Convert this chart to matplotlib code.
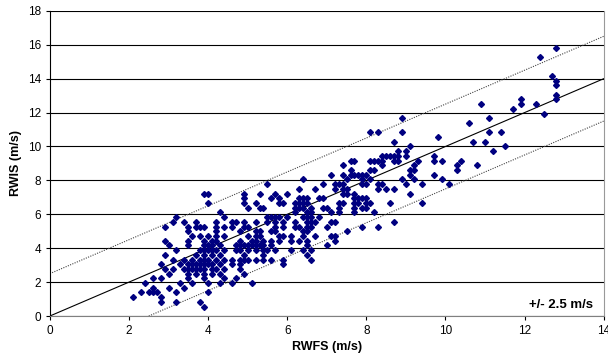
import matplotlib
matplotlib.use('Agg')
import matplotlib.pyplot as plt

plt.rcParams['font.family'] = ['Liberation Sans', 'DejaVu Sans']

# rwis readings (m/s) and the rwfs values (m/s) that go with them, row by row
rwis_levels = [0.56, 0.83, 1.11, 1.39, 1.67, 1.94, 2.22, 2.50, 2.78, 3.06,
               3.33, 3.61, 3.89, 4.17, 4.44, 4.72, 5.00, 5.28, 5.56, 5.83,
               6.11, 6.39, 6.67, 6.94, 7.22, 7.50, 7.78, 8.06, 8.33, 8.61,
               8.89, 9.17, 9.44, 9.72, 10.00, 10.28, 10.56, 10.83, 11.39, 11.67,
               11.94, 12.22, 12.50, 12.78, 13.06, 13.61, 13.89, 14.17, 15.28, 15.83]
rwfs_rows = [
    [3.9],
    [2.8, 3.2, 3.8],
    [2.1, 2.8],
    [2.3, 2.5, 2.6, 2.7, 3.2, 4.0],
    [2.6, 3.0, 3.4],
    [2.4, 3.3, 3.6, 4.0, 4.3, 4.6, 5.1],
    [2.6, 2.8, 3.5, 3.9, 4.4, 4.7],
    [3.0, 3.5, 3.7, 3.9, 4.1, 4.3, 4.9],
    [2.9, 3.1, 3.4, 3.5, 3.6, 3.7, 3.8, 3.9, 4.1, 4.2, 4.4, 4.8],
    [2.8, 3.3, 3.5, 3.6, 3.7, 3.8, 3.9, 4.0, 4.1, 4.3, 4.6, 4.8, 5.9],
    [3.1, 3.4, 3.6, 3.8, 3.9, 4.0, 4.2, 4.4, 4.6, 4.8, 4.9, 5.0, 5.2, 5.4, 5.6, 5.9, 6.6],
    [2.9, 3.7, 3.9, 4.1, 4.3, 4.9, 5.4, 6.5],
    [3.2, 3.8, 3.9, 4.0, 4.1, 4.2, 4.4, 4.7, 4.8, 5.0, 5.2, 5.4, 5.5, 5.7, 6.1, 6.4, 6.6],
    [3.0, 3.5, 3.9, 4.0, 4.1, 4.3, 4.7, 4.8, 4.9, 5.0, 5.1, 5.2, 5.3, 5.4, 5.6, 6.5, 7.0],
    [2.9, 3.5, 3.9, 4.1, 4.2, 4.8, 5.1, 5.2, 5.4, 5.6, 5.8, 6.1, 6.3, 6.5, 7.2],
    [3.6, 3.8, 4.0, 4.2, 4.4, 5.0, 5.2, 5.3, 5.8, 5.9, 6.1, 6.4, 6.7, 7.1, 7.2],
    [3.5, 4.2, 4.8, 5.2, 5.3, 5.6, 5.7, 6.4, 6.5, 7.5],
    [2.9, 3.5, 3.7, 3.8, 3.9, 4.2, 4.4, 4.6, 4.9, 5.0, 5.7, 5.9, 6.2, 6.3, 6.5, 6.6, 7.0, 7.9, 8.3],
    [3.1, 3.4, 3.7, 4.2, 4.6, 4.7, 4.9, 5.2, 5.5, 5.7, 5.9, 6.2, 6.5, 6.6, 6.7, 7.1, 7.2, 8.7],
    [3.2, 4.4, 5.5, 5.6, 5.7, 5.8, 6.0, 6.4, 6.5, 6.6, 6.8],
    [4.3, 6.2, 6.5, 6.6, 7.1, 7.3, 7.7, 8.2],
    [5.0, 5.3, 5.4, 6.2, 6.3, 6.4, 6.6, 6.9, 7.0, 7.3, 7.7, 7.9, 8.0],
    [4.0, 4.9, 5.2, 5.8, 5.9, 6.2, 6.3, 6.4, 6.5, 7.3, 7.4, 7.7, 7.8, 8.0, 8.1, 8.6, 9.4],
    [4.9, 5.6, 5.8, 6.3, 6.4, 6.5, 6.8, 6.9, 7.7, 7.8, 7.9, 8.0],
    [3.9, 4.0, 4.9, 5.3, 5.7, 6.0, 7.4, 7.5, 7.7, 9.1],
    [6.3, 6.7, 7.2, 7.4, 7.5, 8.3, 8.5, 8.7],
    [5.5, 6.9, 7.2, 7.3, 7.4, 7.9, 8.0, 8.3, 8.4, 9.0, 9.4, 10.1],
    [6.4, 7.5, 7.9, 8.1, 8.9, 9.2, 9.9],
    [7.1, 7.4, 7.6, 7.7, 7.8, 7.9, 8.0, 9.1, 9.7],
    [7.6, 8.1, 8.2, 9.1, 9.2, 10.3],
    [7.4, 8.4, 9.2, 10.3, 10.8],
    [7.6, 7.7, 8.1, 8.2, 8.3, 8.4, 8.7, 8.8, 9.3, 9.7, 9.9, 10.4],
    [8.4, 8.5, 8.6, 8.7, 8.8, 9.0, 9.7],
    [8.8, 9.0, 11.2],
    [9.1, 11.5],
    [8.7, 10.7, 11.0],
    [9.8],
    [8.1, 8.3, 8.9, 11.1, 11.4],
    [10.6],
    [8.9, 11.1],
    [12.5],
    [11.7],
    [10.9, 11.9, 12.3],
    [11.9, 12.8],
    [12.8],
    [12.8],
    [12.8],
    [12.7],
    [12.4],
    [12.8],
]

rwfs = [x for row in rwfs_rows for x in row]
rwis = [lvl for lvl, row in zip(rwis_levels, rwfs_rows) for _ in row]

band = 2.5
line_x = [0, 14]
upper_x = [0, 14]
lower_x = [band, 14]

fig = plt.figure(figsize=(6.08, 3.62), dpi=100)
ax = fig.add_axes([0.082, 0.127, 0.911, 0.843])

ax.set_xlim(0, 14)
ax.set_ylim(0, 18)
ax.set_xticks(range(0, 15, 2))
ax.set_yticks(range(0, 19, 2))
ax.yaxis.grid(True, color='black', lw=0.8)
ax.set_axisbelow(True)

ax.plot(rwfs, rwis, ls='none', marker='D', ms=3.0, color='#000080', mec='#000080', zorder=3)
ax.plot(line_x, line_x, color='black', lw=0.8, zorder=2)
ax.plot(upper_x, [x + band for x in upper_x], color='#444444', lw=0.8, ls=(0, (1, 1.2)), zorder=2)
ax.plot(lower_x, [x - band for x in lower_x], color='#444444', lw=0.8, ls=(0, (1, 1.2)), zorder=2)

ax.spines['top'].set_visible(False)
ax.spines['right'].set_color('#999999')
ax.spines['bottom'].set_color('#808080')
ax.spines['left'].set_color('black')
ax.tick_params(direction='out', length=3, labelsize=8.5, colors='black')

ax.set_xlabel('RWFS (m/s)', fontsize=9, fontweight='bold', labelpad=3)
ax.set_ylabel('RWIS (m/s)', fontsize=9, fontweight='bold', labelpad=4)

ax.text(13.72, 0.65, '+/- 2.5 m/s', ha='right', va='center', fontsize=9.5,
        fontweight='bold', family=['Liberation Sans Narrow', 'Liberation Sans'])

fig.savefig('out.png', dpi=100)
